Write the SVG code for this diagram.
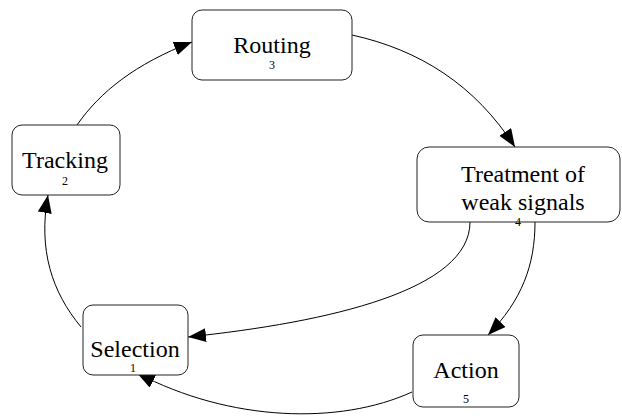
<svg xmlns="http://www.w3.org/2000/svg" width="622" height="416" viewBox="0 0 622 416">
<style>
.box{fill:#fff;stroke:#222;stroke-width:1}
text{font-family:'Liberation Serif','Times New Roman',Times,'DejaVu Serif',serif;fill:#000;text-anchor:middle}
.lbl{font-size:24px}
.num{font-size:12px}
.edge{fill:none;stroke:#000;stroke-width:1;marker-end:url(#arr)}
</style>
<defs>
<marker id="arr" markerUnits="userSpaceOnUse" markerWidth="20" markerHeight="16" refX="18" refY="7" orient="auto">
<path d="M0,0 L18,7 L0,14 Z" fill="#000"/>
</marker>
</defs>
<g id="edges">
<path class="edge" d="M77,125 C100,92 135,64 192,42"/>
<path class="edge" d="M352,35 C420,50 475,85 515,147"/>
<path class="edge" d="M535,222 C535,265 522,300 488,335"/>
<path class="edge" d="M470,222 C470,290 330,322 188,337"/>
<path class="edge" d="M412,392 C340,425 230,422 137,373"/>
<path class="edge" d="M81,327 C52,292 38,250 48,195"/>
</g>
<g id="node3">
<rect class="box" x="192" y="10" width="160" height="70" rx="10"/>
<text class="lbl" x="272" y="53" font-family="Liberation Serif">Routing</text>
<text class="num" x="272" y="69">3</text>
</g>
<g id="node2">
<rect class="box" x="12" y="125" width="108" height="70" rx="10"/>
<text class="lbl" x="65" y="168">Tracking</text>
<text class="num" x="65" y="185">2</text>
</g>
<g id="node4">
<rect class="box" x="417" y="147" width="203" height="75" rx="12"/>
<text class="lbl" x="523" y="182">Treatment of</text>
<text class="lbl" x="523" y="210">weak signals</text>
<text class="num" x="518" y="226">4</text>
</g>
<g id="node1">
<rect class="box" x="83" y="305" width="105" height="70" rx="10"/>
<text class="lbl" x="135" y="357">Selection</text>
<text class="num" x="133" y="372">1</text>
</g>
<g id="node5">
<rect class="box" x="413" y="335" width="106" height="72" rx="10"/>
<text class="lbl" x="466" y="378">Action</text>
<text class="num" x="466" y="403">5</text>
</g>
</svg>
